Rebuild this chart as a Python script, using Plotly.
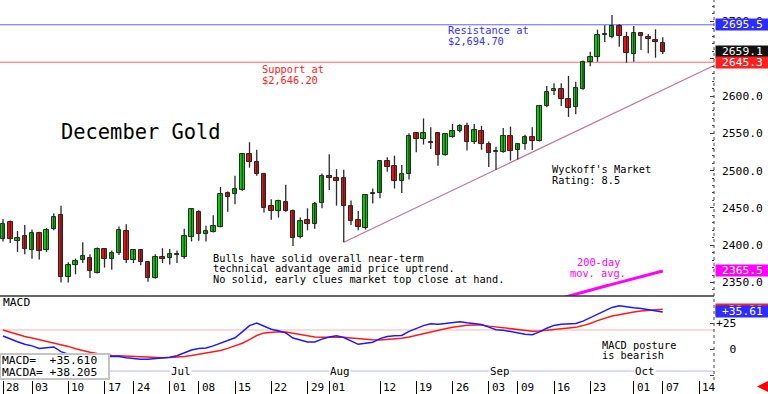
import plotly.graph_objects as go

# ---------------- data ----------------
opens = [2408, 2431, 2405, 2412, 2393, 2417, 2393, 2422, 2441, 2358,
         2374, 2380, 2383, 2363, 2395, 2381, 2390, 2419, 2380, 2393,
         2378, 2356, 2384, 2383, 2387.3, 2384, 2411, 2445, 2415, 2418,
         2425, 2470, 2469, 2474, 2522, 2511, 2496, 2452, 2446, 2458,
         2446, 2411, 2434, 2429, 2456, 2493, 2490.5, 2490, 2452, 2434,
         2423.5, 2468, 2470, 2513, 2506, 2486.5, 2495.5, 2550, 2542, 2539,
         2550, 2521, 2544.6, 2553.5, 2560, 2539, 2553, 2536, 2524.5, 2525,
         2546, 2527, 2535.7, 2545.5, 2540, 2586.6, 2607, 2609.4, 2596, 2585,
         2609.4, 2645, 2652.7, 2682.7, 2679.5, 2693.8, 2679.5, 2656.3, 2684, 2679.5,
         2675, 2671.5]
highs = [2435, 2433, 2419, 2427, 2421, 2418, 2423, 2443, 2453, 2377,
         2382, 2404, 2388, 2397, 2395.5, 2393, 2425, 2428, 2394, 2395,
         2379, 2388, 2396, 2395, 2393, 2422, 2448.5, 2447, 2426, 2440,
         2478, 2472, 2493, 2523, 2538, 2528, 2497, 2461.5, 2461, 2481,
         2448, 2437, 2449.5, 2458, 2496, 2522, 2502, 2501, 2460, 2446,
         2468, 2476, 2514, 2518, 2520, 2507.5, 2550, 2551.4, 2570, 2558,
         2551.4, 2550, 2562.5, 2562, 2564, 2562.5, 2560, 2539, 2532, 2557,
         2559, 2537, 2548, 2558, 2588, 2613.4, 2617, 2617, 2627, 2619,
         2647.6, 2659.4, 2689, 2695, 2708.6, 2696.5, 2686, 2693.8, 2685, 2683,
         2689.4, 2678.7]
lows = [2405, 2403, 2391, 2388, 2382, 2381, 2391, 2420, 2350, 2350,
        2361, 2376, 2356, 2362, 2370, 2367, 2387, 2376, 2376, 2373,
        2351, 2355, 2376, 2374, 2376, 2382, 2405, 2406, 2405, 2417,
        2424, 2445, 2455, 2473, 2504, 2493, 2444, 2434, 2437, 2445,
        2399, 2409, 2420, 2422, 2449.5, 2474, 2453, 2404, 2427, 2420,
        2421, 2456, 2463, 2498.5, 2476, 2470, 2488, 2524.5, 2535, 2529,
        2506.6, 2520, 2544, 2551, 2527, 2535.7, 2528, 2505, 2501, 2524,
        2513.5, 2515, 2528, 2527.6, 2539, 2585, 2601.4, 2586.6, 2572, 2575.5,
        2608.5, 2640, 2646, 2672.4, 2677.4, 2666, 2644.7, 2646, 2661.7, 2657.3,
        2651.4, 2656.3]
closes = [2429, 2408, 2410, 2395, 2417, 2392, 2421, 2438, 2358, 2374,
          2379, 2386, 2365, 2395, 2381, 2389, 2420, 2380, 2393, 2377,
          2356, 2384, 2381, 2388, 2386.9, 2412, 2448, 2415, 2419, 2426,
          2469, 2465, 2476, 2522, 2512, 2496, 2450, 2446, 2459, 2446,
          2410, 2433, 2429, 2455, 2493, 2490.5, 2486.5, 2453, 2433, 2424,
          2467, 2470, 2513, 2505, 2486, 2495, 2547, 2543, 2551, 2537.5,
          2521, 2548.7, 2553, 2560, 2539, 2554, 2536, 2524, 2526, 2546.6,
          2526, 2535.4, 2545.5, 2540, 2587, 2605.8, 2609, 2596, 2584.3, 2611,
          2646, 2652.7, 2681.8, 2681.8, 2693.8, 2680.4, 2657.3, 2684, 2680.4, 2676,
          2672.4, 2659.1]

macd = [12.5, 9.5, 7, 4.5, 3, 0.5, 1.5, 2, -2.5, -5,
        -6.5, -7, -7.3, -7.4, -7, -6.8, -7.3, -8.5, -9.5, -9.8,
        -9.9, -9.3, -8.8, -8, -6.5, -4, -1, 0.5, 1, 3,
        5.5, 8, 10.8, 16.5, 22.5, 25, 22, 19, 17.5, 15.5,
        10.5, 8.5, 6.8, 6.7, 9.5, 11.5, 12.8, 11, 8, 4.5,
        5.5, 6.5, 10, 12, 12.8, 13, 17, 20, 22.5, 24.3,
        23.8, 24.5, 25.5, 26.3, 25.2, 24.3, 23.5, 21, 18.5, 18.1,
        16.8, 15.3, 14.2, 13.8, 16.5, 20, 22.7, 23.8, 24, 24.5,
        26.8, 30, 33.2, 36.5, 40, 41.5, 40.2, 39.6, 39, 37.8,
        36.2, 35.61]
macda = [18.3, 16, 14, 12, 10.5, 9, 7, 6, 4.6, 2.5,
         0.3, -1.6, -3.2, -4.4, -5.4, -6.2, -6.4, -6.7, -7.4, -7.9,
         -8.1, -8.2, -8.3, -8.2, -8, -7.2, -6.2, -5, -3.5, -2.5,
         -1.5, 0.6, 2.8, 5.5, 9, 13, 15.5, 16.2, 16.5, 16.4,
         15.2, 13.8, 12.5, 11.5, 11.4, 11.5, 11.4, 11.2, 10.5, 9.8,
         9.2, 8.8, 8.7, 9.2, 9.8, 10.4, 11.5, 13.2, 15, 16.7,
         18.4, 19.5, 21, 22, 22.8, 23.1, 23, 22, 21.2, 20.6,
         19.6, 18.4, 17.6, 17.1, 17.3, 18, 19.2, 19.8, 20.2, 20.8,
         22.5, 24.5, 27.3, 29.5, 31.7, 33, 34.5, 35.5, 36.5, 37.2,
         37.8, 38.205]

ma200_first = 77
ma200 = [2329, 2331.5, 2334.5, 2337, 2339.5, 2342, 2345, 2347.5, 2350,
         2352.5, 2355, 2357.5, 2360, 2363, 2365.5]

tick_idx = [0, 4, 9, 14, 18, 23, 27, 32, 37, 42, 45, 52, 57, 62, 67, 71, 76, 81, 87, 91, 96]
tick_lbl = ["28", "03", "10", "17", "24", "01", "08", "15", "22", "29", "01",
            "12", "19", "26", "03", "09", "16", "23", "01", "07", "14"]
month_idx = [23, 45, 67, 87]
month_lbl = ["Jul", "Aug", "Sep", "Oct"]

price_ticks = [2350, 2400, 2450, 2500, 2550, 2600, 2650, 2700]
price_ticks_txt = ["2350.0", "2400.0", "2450.0", "2500.0", "2550.0", "2600.0", "2650.0", "2700.0"]
macd_ticks = [0, 25]
macd_ticks_txt = ["\u00a0\u00a00", "+25"]

resistance = 2695.5
support = 2645.3
trend_x = [47, 97.93]
trend_y = [2404, 2640.2]
macd_ref = 18.3
month_line = -21.2

# ---------------- geometry ----------------
W, H = 768, 394
PW, PH = 714, 380           # plot area
SPLIT = 296                 # pixel of panel separator
MONO = "DejaVu Sans Mono"
n = len(closes)

def px(x):
    return x / PW

def py(y):
    return 1 - y / PH

fig = go.Figure()

# wicks
wx, wy = [], []
for i in range(n):
    wx += [i, i, None]
    wy += [lows[i], highs[i], None]
fig.add_trace(go.Scatter(x=wx, y=wy, mode="lines", xaxis="x", yaxis="y",
                         line=dict(color="#2a2a2a", width=1.3), hoverinfo="skip"))

# bodies
base = [min(o, c) for o, c in zip(opens, closes)]
hgt = [max(abs(c - o), 0.7) for o, c in zip(opens, closes)]
cols = ["#00e000" if c >= o else "#ff1010" for o, c in zip(opens, closes)]
fig.add_trace(go.Bar(x=list(range(n)), y=hgt, base=base, width=0.62,
                     marker=dict(color=cols, line=dict(color="#111111", width=0.9)),
                     xaxis="x", yaxis="y", hoverinfo="skip"))

# 200-day MA
fig.add_trace(go.Scatter(x=list(range(ma200_first, ma200_first + len(ma200))), y=ma200,
                         mode="lines", line=dict(color="#ff00ff", width=3),
                         xaxis="x", yaxis="y", hoverinfo="skip"))

# MACD
fig.add_trace(go.Scatter(x=list(range(n)), y=macda, mode="lines",
                         line=dict(color="#ff1a1a", width=1.5), xaxis="x", yaxis="y2"))
fig.add_trace(go.Scatter(x=list(range(n)), y=macd, mode="lines",
                         line=dict(color="#1a1aff", width=1.5), xaxis="x", yaxis="y2"))

shapes = [
    dict(type="line", xref="paper", yref="y", x0=0, x1=1, y0=resistance, y1=resistance,
         line=dict(color="#6464ff", width=1), layer="below"),
    dict(type="line", xref="paper", yref="y", x0=0, x1=1, y0=support, y1=support,
         line=dict(color="#ff6464", width=1), layer="below"),
    dict(type="line", xref="x", yref="y", x0=trend_x[0], x1=trend_x[1], y0=trend_y[0], y1=trend_y[1],
         line=dict(color="#c07898", width=1.3), layer="below"),
    dict(type="line", xref="paper", yref="y2", x0=0, x1=1, y0=macd_ref, y1=macd_ref,
         line=dict(color="#ffb4b4", width=1), layer="below"),
    dict(type="line", xref="paper", yref="y2", x0=0, x1=1, y0=month_line, y1=month_line,
         line=dict(color="#b4b4ff", width=1), layer="below"),
    dict(type="line", xref="paper", yref="paper", x0=0, x1=1, y0=py(SPLIT), y1=py(SPLIT),
         line=dict(color="#333333", width=1.5)),
    dict(type="line", xref="paper", yref="paper", x0=1, x1=1, y0=0, y1=1,
         line=dict(color="#444444", width=1, dash="dot")),
    # MACD value box
    dict(type="rect", xref="paper", yref="paper", x0=0, x1=px(109), y0=py(379), y1=py(354),
         line=dict(color="#c4c4c4", width=2), fillcolor="white"),
]

ann = []

def txt(lines, x, y, size, color, spacing=10.8, xanchor="left", **kw):
    for k, line in enumerate(lines):
        ann.append(dict(xref="paper", yref="paper", x=px(x), y=py(y + k * spacing),
                        text=line, showarrow=False, xanchor=xanchor, yanchor="middle",
                        font=dict(family=MONO, size=size, color=color), **kw))

txt(["Resistance at", "$2,694.70"], 446, 30.5, 10.3, "#3030ff")
txt(["Support at", "$2,646.20"], 260, 69, 10.3, "#ff2020")
txt(["December Gold"], 59, 132, 20.4, "#000000")
txt(["Wyckoff's Market", "Rating: 8.5"], 550, 169, 10.3, "#000000")
txt(["Bulls have solid overall near-term",
     "technical advantage amid price uptrend.",
     "No solid, early clues market top close at hand."], 211, 258, 10.3, "#000000", spacing=10.4)
txt(["200-day", "mov. avg."], 598, 262, 10.3, "#ff00ff", xanchor="center")
txt(["MACD"], 1, 302.5, 11.3, "#000000")
txt(["MACD posture", "is bearish"], 600, 344.5, 10.3, "#000000")
txt(["MACD=\u00a0\u00a0+35.610", "MACDA=\u00a0+38.205"], 0, 360, 11.3, "#000000", spacing=12.3)

# month labels on the light-blue line
for i, m in zip(month_idx, month_lbl):
    ann.append(dict(xref="x", yref="y2", x=i, y=month_line, text=m, showarrow=False,
                    xanchor="left", yanchor="middle", xshift=0, bgcolor="white", borderpad=0,
                    font=dict(family=MONO, size=10.8, color="#000000")))

# date tick labels
for i, t in zip(tick_idx, tick_lbl):
    ann.append(dict(xref="x", yref="paper", x=i, y=py(387), text=t, showarrow=False,
                    xanchor="left", yanchor="middle", xshift=1,
                    font=dict(family=MONO, size=11, color="#000000")))

# right-side value boxes
def box(val, yref, text, bg):
    ann.append(dict(xref="paper", yref=yref, x=1, y=val, text=text, showarrow=False,
                    xanchor="left", yanchor="middle", xshift=1, width=52, height=10,
                    bgcolor=bg, borderpad=0.5, align="center",
                    font=dict(family=MONO, size=11.3, color="white")))

box(resistance, "y", f"{resistance:.1f}", "#2d2dff")
box(closes[-1], "y", f"{closes[-1]:.1f}", "#111111")
box(support, "y", f"{support:.1f}", "#ff2020")
box(ma200[-1], "y", f"{ma200[-1]:.1f}", "#ff00ff")
box(macda[-1], "y2", f"+{macda[-1]:.2f}", "#ff2020")
box(macd[-1], "y2", f"+{macd[-1]:.2f}", "#2d2dff")

# red arrow bottom right
ann.append(dict(xref="paper", yref="paper", x=px(757), y=py(386.5), ax=11, ay=0,
                text="", showarrow=True, arrowhead=2, arrowsize=0.8, arrowwidth=3,
                arrowcolor="#ff0000"))

fig.update_layout(
    width=W, height=H,
    margin=dict(l=0, r=W - PW, t=0, b=H - PH),
    paper_bgcolor="white", plot_bgcolor="white",
    showlegend=False, barmode="overlay", bargap=0,
    shapes=shapes, annotations=ann,
    xaxis=dict(domain=[0, 1], anchor="y2", range=[-3 / 7.25, (PW - 3) / 7.25],
               showgrid=False, zeroline=False, showline=False,
               tickmode="array", tickvals=tick_idx, ticks="outside", ticklen=H - PH,
               tickcolor="#000000", tickwidth=1, showticklabels=False, fixedrange=True),
    yaxis=dict(domain=[py(SPLIT), 1], anchor="x", side="right",
               range=[2728.7 - 1.3405 * SPLIT, 2728.7],
               showgrid=False, zeroline=False, showline=False,
               tickmode="array", tickvals=price_ticks, ticktext=price_ticks_txt,
               ticks="inside", ticklen=4, tickcolor="#444444",
               minor=dict(ticks="inside", ticklen=2, dtick=10, tickcolor="#444444", showgrid=False),
               ticklabelstandoff=7,
               tickfont=dict(family=MONO, size=11.3, color="#000000")),
    yaxis2=dict(domain=[0, py(SPLIT)], anchor="x", side="right",
                range=[(349 - PH) / 1.04, (349 - SPLIT) / 1.04],
                showgrid=False, zeroline=False, showline=False,
                tickmode="array", tickvals=macd_ticks, ticktext=macd_ticks_txt,
                ticks="inside", ticklen=4, tickcolor="#444444",
                minor=dict(ticks="inside", ticklen=4, dtick=25, tickcolor="#444444", showgrid=False),
                ticklabelstandoff=1,
                tickfont=dict(family=MONO, size=11.3, color="#000000")),
)

fig.write_html("out.html", config={"displayModeBar": False},
               post_script="document.body.style.margin='0';document.body.style.padding='0';")
